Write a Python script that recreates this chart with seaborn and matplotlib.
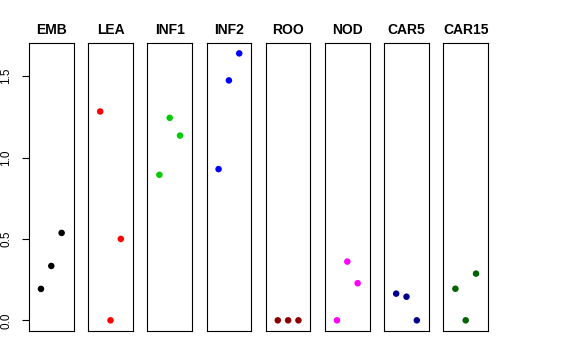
import matplotlib
matplotlib.use("Agg")
import matplotlib.pyplot as plt
import seaborn as sns
import pandas as pd

tissues = ["EMB", "LEA", "INF1", "INF2", "ROO", "NOD", "CAR5", "CAR15"]
colors = ["#000000", "#FF0000", "#00CD00", "#0000FF", "#8B0000", "#FF00FF", "#00008B", "#006400"]
replicate = [1, 2, 3]
values = {
    "EMB":   [0.193, 0.334, 0.537],
    "LEA":   [1.283, 0.000, 0.500],
    "INF1":  [0.894, 1.244, 1.135],
    "INF2":  [0.929, 1.474, 1.640],
    "ROO":   [0.000, 0.000, 0.000],
    "NOD":   [0.000, 0.361, 0.228],
    "CAR5":  [0.164, 0.145, 0.000],
    "CAR15": [0.194, 0.000, 0.287],
}
yticks = [0.0, 0.5, 1.0, 1.5]
ytick_labels = ["0.0", "0.5", "1.0", "1.5"]

rows = []
for t in tissues:
    for r, v in zip(replicate, values[t]):
        rows.append({"tissue": t, "rep": r, "value": v})
df = pd.DataFrame(rows)

sns.set_style("white")
plt.rcParams["font.family"] = ["Liberation Sans", "DejaVu Sans"]
plt.rcParams["text.color"] = "black"
plt.rcParams["ytick.color"] = "black"
plt.rcParams["ytick.labelcolor"] = "black"

W, H = 576, 360
fig = plt.figure(figsize=(W / 100, H / 100), dpi=100)

ymax = max(df["value"])
ymin = min(df["value"])
yr = ymax - ymin
ylim = (ymin - 0.04 * yr, ymax + 0.04 * yr)
xlim = (0 - 0.04 * 4, 4 + 0.04 * 4)

left0 = 29.0
step = 59.2
pw = 44.6
top_px = 42.7
bot_px = 331.0

for i, (t, c) in enumerate(zip(tissues, colors)):
    x0 = left0 + i * step
    ax = fig.add_axes([x0 / W, (H - bot_px) / H, pw / W, (bot_px - top_px) / H])
    sub = df[df["tissue"] == t]
    sns.scatterplot(data=sub, x="rep", y="value", color=c, s=22, edgecolor="none",
                    ax=ax, legend=False)
    ax.set_xlim(*xlim)
    ax.set_ylim(*ylim)
    ax.set_xticks([])
    ax.set_xlabel("")
    ax.set_ylabel("")
    for sp in ax.spines.values():
        sp.set_visible(True)
        sp.set_color("#000000")
        sp.set_linewidth(0.8)
    ax.set_title(t, fontsize=10, fontweight="bold", pad=6, color="black")
    if i == 0:
        ax.set_yticks(yticks)
        ax.set_yticklabels(ytick_labels, rotation=90, va="center", fontsize=8.5, color="black")
        ax.tick_params(axis="y", left=True, length=5, width=0.8, pad=7, color="#000000")
    else:
        ax.set_yticks([])

fig.savefig("out.png", dpi=100)
